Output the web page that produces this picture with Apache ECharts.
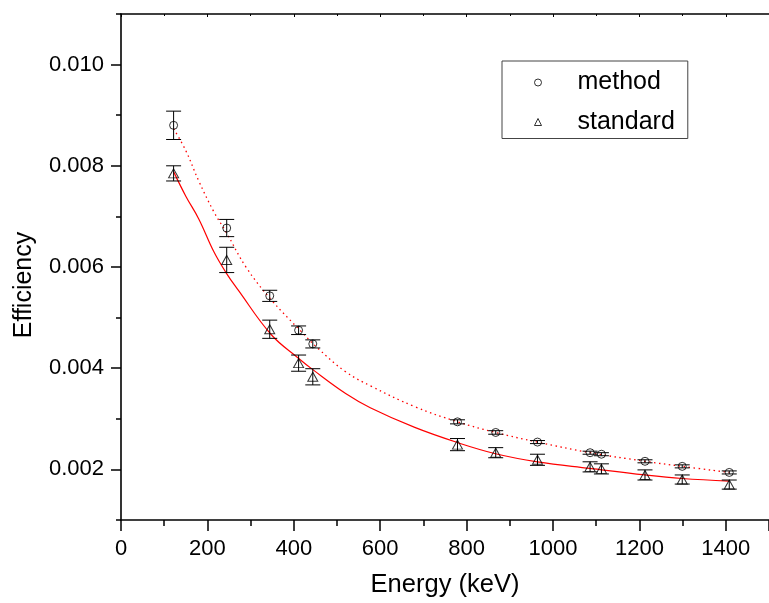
<!DOCTYPE html>
<html>
<head>
<meta charset="utf-8">
<script src="https://cdn.jsdelivr.net/npm/echarts@6/dist/echarts.min.js"></script>
<style>html,body{margin:0;padding:0;background:#fff}#c{width:769px;height:603px}</style>
</head>
<body>
<div id="c"></div>
<script>
// ---- data ----
var energies = [121.78, 244.70, 344.28, 411.12, 443.96, 778.90, 867.38, 964.08, 1085.84, 1112.08, 1212.95, 1299.14, 1408.01];
var methodEff = [0.00880, 0.00677, 0.00543, 0.00475, 0.00448, 0.00294, 0.00273, 0.00254, 0.00233, 0.00230, 0.00216, 0.00206, 0.00194];
var methodErr = [0.00028, 0.00017, 0.00011, 0.000085, 0.00008, 0.00004, 0.000035, 0.00003, 0.00003, 0.00003, 0.00003, 0.00003, 0.00003];
var standardEff = [0.00785, 0.00614, 0.00477, 0.00410, 0.00383, 0.00249, 0.00233, 0.00219, 0.00205, 0.00201, 0.00189, 0.00180, 0.00170];
var standardErr = [0.00015, 0.00025, 0.00018, 0.00016, 0.00016, 0.00012, 0.00010, 0.00011, 0.00010, 0.00010, 0.00010, 0.00009, 0.00009];

// fitted curves
var methodFitE = [122, 150, 180, 215, 243, 290, 348, 417, 455, 520, 580, 680, 779, 867, 964, 1086, 1213, 1299, 1408];
var methodFitV = [0.00873, 0.00830, 0.00770, 0.00709, 0.006695, 0.00599, 0.00535, 0.004727, 0.00440, 0.00393, 0.00364, 0.00324, 0.00294, 0.00273, 0.00254, 0.00233, 0.00216, 0.00206, 0.00194];
var standardFitE = [122, 150, 180, 215, 243, 271, 348, 410, 444, 520, 577, 680, 779, 867, 964, 1086, 1213, 1299, 1408];
var standardFitV = [0.00788, 0.00740, 0.00695, 0.00630, 0.00589, 0.005547, 0.004661, 0.004203, 0.003972, 0.00350, 0.00322, 0.00283, 0.00253, 0.00231, 0.00215, 0.00202, 0.00189, 0.00182, 0.00177];

var yMajorTicks = [0.002, 0.004, 0.006, 0.008, 0.010];
var yMinorTicks = [0.001, 0.003, 0.005, 0.007, 0.009, 0.011];
var seriesNames = ['method', 'standard'];
var seriesIcons = ['circle', 'triangle'];

var FONT = "'Liberation Sans', Arial, sans-serif";

function zip(a, b) { return a.map(function (v, i) { return [v, b[i]]; }); }
function errData(e, v, err) { return e.map(function (x, i) { return [x, v[i] - err[i], v[i] + err[i]]; }); }

function renderErr(params, api) {
  var x = api.value(0), lo = api.value(1), hi = api.value(2);
  var p1 = api.coord([x, hi]), p2 = api.coord([x, lo]);
  var hw = 7.5;
  var st = { stroke: '#000', lineWidth: 1, fill: null };
  return {
    type: 'group',
    children: [
      { type: 'line', shape: { x1: p1[0], y1: p1[1], x2: p2[0], y2: p2[1] }, style: st },
      { type: 'line', shape: { x1: p1[0] - hw, y1: p1[1], x2: p1[0] + hw, y2: p1[1] }, style: st },
      { type: 'line', shape: { x1: p2[0] - hw, y1: p2[1], x2: p2[0] + hw, y2: p2[1] }, style: st }
    ]
  };
}

var chart = echarts.init(document.getElementById('c'), null, { renderer: 'canvas' });
var axisLineStyle = { color: '#000', width: 1.6 };

chart.setOption({
  animation: false,
  backgroundColor: '#fff',
  textStyle: { fontFamily: FONT },
  grid: { left: 121, top: 14, width: 658, height: 507, containLabel: false },
  legend: {
    data: seriesNames.map(function (n, i) {
      return { name: n, icon: seriesIcons[i], itemStyle: { color: 'rgba(255,255,255,0)', borderColor: '#000', borderWidth: 1 } };
    }),
    orient: 'vertical',
    left: 502,
    top: 61,
    padding: [9, 13, 4, 32],
    itemWidth: 7,
    itemHeight: 7,
    itemGap: 14.5,
    borderColor: '#444',
    borderWidth: 1,
    selectedMode: false,
    textStyle: { fontFamily: FONT, fontSize: 25, color: '#000', lineHeight: 24, padding: [0, 0, 0, 31] }
  },
  xAxis: [{
    type: 'value', position: 'bottom', min: 0, max: 1500, interval: 200,
    name: 'Energy (keV)', nameLocation: 'middle', nameGap: 52,
    nameTextStyle: { fontFamily: FONT, fontSize: 25.5, color: '#000' },
    axisLine: { show: true, onZero: false, lineStyle: axisLineStyle },
    axisTick: { show: true, inside: false, length: 11, lineStyle: { color: '#000', width: 1.5 } },
    minorTick: { show: true, splitNumber: 2, length: 6, lineStyle: { color: '#000', width: 1.5 } },
    axisLabel: { show: true, fontFamily: FONT, fontSize: 22, color: '#000', margin: 18, showMaxLabel: false,
      formatter: function (v) { return v > 1400 ? '' : String(v); } },
    splitLine: { show: false }
  }, {
    type: 'value', position: 'top', min: 0, max: 1500, interval: 200,
    axisLine: { show: true, onZero: false, lineStyle: axisLineStyle },
    axisTick: { show: true, inside: true, length: 3, lineStyle: { color: '#000', width: 1 } },
    minorTick: { show: true, splitNumber: 2, length: 2, lineStyle: { color: '#000', width: 1 } },
    axisLabel: { show: false },
    splitLine: { show: false }
  }],
  yAxis: [{
    type: 'value', position: 'left', min: 0.001, max: 0.011, interval: 0.001,
    name: 'Efficiency', nameLocation: 'middle', nameGap: 84, nameRotate: 90,
    nameTextStyle: { fontFamily: FONT, fontSize: 25, color: '#000', padding: [0, 36, 0, 0] },
    axisLine: { show: true, onZero: false, lineStyle: axisLineStyle },
    axisTick: { show: true, inside: false, length: 10, customValues: yMajorTicks, lineStyle: { color: '#000', width: 1.5 } },
    axisLabel: { show: true, fontFamily: FONT, fontSize: 22, color: '#000', margin: 17, customValues: yMajorTicks,
      formatter: function (v) { return v.toFixed(3); } },
    splitLine: { show: false }
  }, {
    type: 'value', position: 'left', min: 0.001, max: 0.011, interval: 0.001,
    axisLine: { show: false },
    axisTick: { show: true, inside: false, length: 5, customValues: yMinorTicks, lineStyle: { color: '#000', width: 1.5 } },
    axisLabel: { show: false },
    splitLine: { show: false }
  }],
  series: [
    {
      name: 'methodFit', type: 'line', xAxisIndex: 0, yAxisIndex: 0, data: zip(methodFitE, methodFitV),
      showSymbol: false, smooth: 0.4, silent: true, z: 1,
      lineStyle: { color: '#ff0000', width: 1.3, type: [1.5, 3.5] }
    },
    {
      name: 'standardFit', type: 'line', xAxisIndex: 0, yAxisIndex: 0, data: zip(standardFitE, standardFitV),
      showSymbol: false, smooth: 0.4, silent: true, z: 1,
      lineStyle: { color: '#ff0000', width: 1.2, type: 'solid' }
    },
    {
      name: 'methodErr', type: 'custom', xAxisIndex: 0, yAxisIndex: 0, data: errData(energies, methodEff, methodErr),
      renderItem: renderErr, silent: true, z: 2
    },
    {
      name: 'standardErr', type: 'custom', xAxisIndex: 0, yAxisIndex: 0, data: errData(energies, standardEff, standardErr),
      renderItem: renderErr, silent: true, z: 2
    },
    {
      name: 'method', type: 'scatter', xAxisIndex: 0, yAxisIndex: 0, data: zip(energies, methodEff),
      symbol: 'circle', symbolSize: 8, z: 3,
      itemStyle: { color: 'rgba(255,255,255,0)', borderColor: '#000', borderWidth: 1 }
    },
    {
      name: 'standard', type: 'scatter', xAxisIndex: 0, yAxisIndex: 0, data: zip(energies, standardEff),
      symbol: 'triangle', symbolSize: [10, 9], z: 3,
      itemStyle: { color: 'rgba(255,255,255,0)', borderColor: '#000', borderWidth: 1 }
    }
  ]
});
</script>
</body>
</html>
